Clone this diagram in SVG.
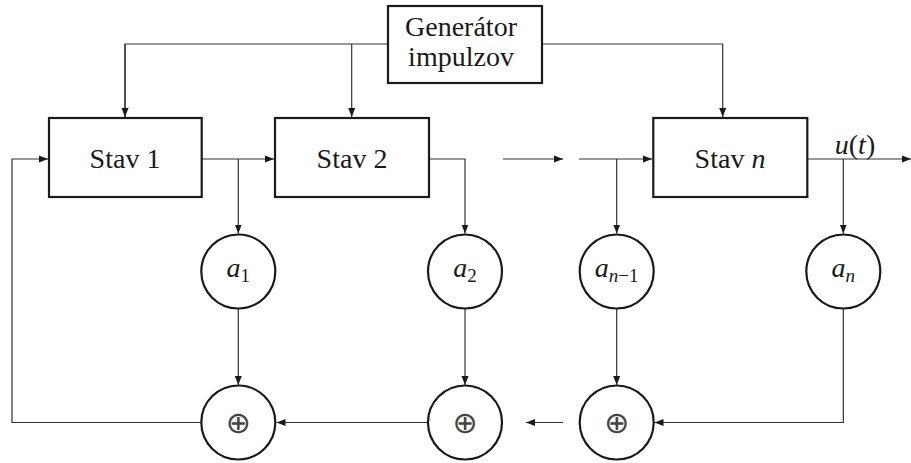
<svg xmlns="http://www.w3.org/2000/svg" width="911" height="463" viewBox="0 0 911 463">
<style>
.box{fill:#fff;stroke:#1a1a1a;stroke-width:2.2}
.circ{fill:#fff;stroke:#1a1a1a;stroke-width:2.2}
.lbl{font-size:28px;fill:#1a1a1a;text-anchor:middle}
.it{font-style:italic}
.sub{font-size:19px}
.op{font-size:30px;fill:#444;text-anchor:middle}
.wire{fill:none;stroke:#333;stroke-width:1.2}
.arr{marker-end:url(#ah)}
</style>
<defs>
<marker id="ah" markerUnits="userSpaceOnUse" markerWidth="10" markerHeight="8" refX="9" refY="4" orient="auto">
<path d="M0,0.5 L9,4 L0,7.5 Z" fill="#1a1a1a"/>
</marker>
</defs>
<g id="connectors">
<path class="wire" d="M388,44 H125 V117"/>
<path class="wire arr" d="M125,44 V117"/>
<path class="wire arr" d="M351.7,44 V117"/>
<path class="wire arr" d="M542,44 H722.7 V117"/>
<path class="wire arr" d="M201.7,159 H274"/>
<path class="wire arr" d="M238.3,159 V233.5"/>
<path class="wire arr" d="M429,159 H465 V233.5"/>
<path class="wire arr" d="M503,159 H563"/>
<path class="wire arr" d="M579,159 H652"/>
<path class="wire arr" d="M616.7,159 V233.5"/>
<path class="wire arr" d="M807,159 H911"/>
<path class="wire arr" d="M843.3,159 V233.5"/>
<path class="wire arr" d="M238.3,309 V385"/>
<path class="wire arr" d="M465,309 V385"/>
<path class="wire arr" d="M616.7,309 V385"/>
<path class="wire arr" d="M843.3,309 V422.5 H654.5"/>
<path class="wire arr" d="M428,422.5 H276.5"/>
<path class="wire arr" d="M563,422.5 H526"/>
<path class="wire arr" d="M201,422.5 H12 V159 H48"/>
</g>
<g id="generator">
<rect class="box" x="388" y="6" width="154" height="77"/>
<text class="lbl" font-family="Liberation Serif" x="461" y="36">Generátor</text>
<text class="lbl" font-family="Liberation Serif" x="461" y="66">impulzov</text>
</g>
<g id="stav1">
<rect class="box" x="49" y="118" width="152.7" height="79"/>
<text class="lbl" font-family="Liberation Serif" x="125" y="168">Stav 1</text>
</g>
<g id="stav2">
<rect class="box" x="275" y="118" width="154" height="79"/>
<text class="lbl" font-family="Liberation Serif" x="352" y="168">Stav 2</text>
</g>
<g id="stavn">
<rect class="box" x="653.3" y="118" width="154" height="79"/>
<text class="lbl" font-family="Liberation Serif" x="730" y="168">Stav <tspan class="it">n</tspan></text>
</g>
<g id="ut">
<text class="lbl" font-family="Liberation Serif" x="855" y="154"><tspan class="it">u</tspan>(<tspan class="it">t</tspan>)</text>
</g>
<g id="a1">
<circle class="circ" cx="238.3" cy="271.5" r="37"/>
<text class="lbl" font-family="Liberation Serif" x="238.3" y="277"><tspan class="it">a</tspan><tspan class="sub" dy="5">1</tspan></text>
</g>
<g id="a2">
<circle class="circ" cx="465" cy="271.5" r="37"/>
<text class="lbl" font-family="Liberation Serif" x="465" y="277"><tspan class="it">a</tspan><tspan class="sub" dy="5">2</tspan></text>
</g>
<g id="an1">
<circle class="circ" cx="616.7" cy="271.5" r="37"/>
<text class="lbl" font-family="Liberation Serif" x="616.7" y="277"><tspan class="it">a</tspan><tspan class="sub it" dy="5">n</tspan><tspan class="sub">−1</tspan></text>
</g>
<g id="an">
<circle class="circ" cx="843.3" cy="271.5" r="37"/>
<text class="lbl" font-family="Liberation Serif" x="843.3" y="277"><tspan class="it">a</tspan><tspan class="sub it" dy="5">n</tspan></text>
</g>
<g id="sum1">
<circle class="circ" cx="238.3" cy="422.5" r="37"/>
<text class="op" font-family="DejaVu Sans" x="238.3" y="433">⊕</text>
</g>
<g id="sum2">
<circle class="circ" cx="465" cy="422.5" r="37"/>
<text class="op" font-family="DejaVu Sans" x="465" y="433">⊕</text>
</g>
<g id="sumn1">
<circle class="circ" cx="616.7" cy="422.5" r="37"/>
<text class="op" font-family="DejaVu Sans" x="616.7" y="433">⊕</text>
</g>
</svg>
